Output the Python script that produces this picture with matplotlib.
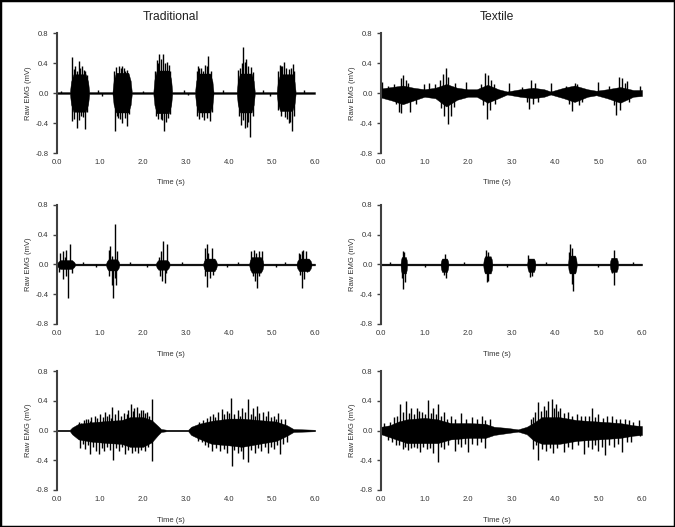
import numpy as np
import matplotlib.pyplot as plt
from matplotlib.patches import Rectangle

plt.rcParams['font.family'] = ['Liberation Sans', 'DejaVu Sans']
plt.rcParams['axes.unicode_minus'] = False

# ---- Traditional, row 1: six bursts (start, end, core up, core low)
trad1_start = [0.30, 1.29, 2.24, 3.21, 4.18, 5.11]
trad1_end = [0.75, 1.74, 2.68, 3.64, 4.60, 5.55]
trad1_up = [0.25, 0.27, 0.30, 0.26, 0.26, 0.25]
trad1_lo = [-0.25, -0.26, -0.27, -0.26, -0.26, -0.24]
trad1_spikes = [(0.36, 0.48), (0.42, 0.36), (0.50, 0.43), (0.58, 0.36), (0.65, 0.30),
                (0.35, -0.37), (0.46, -0.47), (0.55, -0.30), (0.65, -0.48),
                (0.40, 0.32), (0.46, 0.30), (0.54, 0.34), (0.62, 0.31), (0.70, 0.24),
                (0.40, -0.34), (0.51, -0.36), (0.60, -0.32), (0.70, -0.25),
                (1.38, 0.35), (1.44, 0.36), (1.55, 0.33), (1.62, 0.31),
                (1.35, -0.51), (1.42, -0.33), (1.52, -0.40), (1.62, -0.44),
                (1.33, 0.30), (1.48, 0.33), (1.52, 0.36), (1.58, 0.30), (1.66, 0.25),
                (1.40, -0.30), (1.47, -0.35), (1.57, -0.33), (1.67, -0.28),
                (2.33, 0.44), (2.38, 0.52), (2.47, 0.52), (2.55, 0.42), (2.60, 0.38),
                (2.30, -0.30), (2.42, -0.34), (2.49, -0.50), (2.58, -0.33),
                (2.28, 0.30), (2.35, 0.40), (2.42, 0.45), (2.51, 0.40), (2.63, 0.30),
                (2.35, -0.34), (2.45, -0.36), (2.53, -0.38), (2.63, -0.28),
                (3.27, 0.36), (3.35, 0.33), (3.45, 0.38), (3.52, 0.49),
                (3.30, -0.34), (3.42, -0.36), (3.56, -0.37),
                (3.25, 0.30), (3.31, 0.34), (3.40, 0.30), (3.49, 0.36), (3.58, 0.30),
                (3.25, -0.30), (3.37, -0.32), (3.48, -0.33), (3.60, -0.25),
                (4.22, 0.31), (4.33, 0.62), (4.40, 0.45), (4.50, 0.35),
                (4.27, -0.42), (4.37, -0.47), (4.44, -0.38), (4.49, -0.58),
                (4.25, 0.34), (4.30, 0.40), (4.37, 0.42), (4.45, 0.36), (4.55, 0.28),
                (4.23, -0.30), (4.33, -0.36), (4.41, -0.45), (4.55, -0.30),
                (5.18, 0.38), (5.24, 0.36), (5.29, 0.41), (5.40, 0.32), (5.48, 0.39),
                (5.14, -0.22), (5.30, -0.32), (5.40, -0.40), (5.46, -0.50),
                (5.15, 0.30), (5.21, 0.36), (5.33, 0.34), (5.44, 0.33), (5.52, 0.30),
                (5.20, -0.30), (5.35, -0.34), (5.43, -0.38), (5.50, -0.30),
                (0.10, 0.03), (0.95, 0.04), (1.05, -0.04), (2.00, 0.03), (2.95, 0.04),
                (3.05, -0.03), (3.85, 0.04), (4.80, 0.04), (4.95, -0.04), (5.75, 0.04)]

# ---- Traditional, row 2
trad2_start = [0.00, 1.14, 2.30, 3.40, 4.47, 5.57]
trad2_end = [0.42, 1.45, 2.62, 3.72, 4.80, 5.92]
trad2_up = [0.06, 0.07, 0.06, 0.08, 0.10, 0.08]
trad2_lo = [-0.06, -0.08, -0.07, -0.09, -0.11, -0.09]
trad2_spikes = [(0.08, 0.15), (0.13, 0.18), (0.22, 0.20), (0.30, 0.27), (0.26, -0.45),
                (0.14, -0.20), (0.35, -0.12), (0.05, -0.10), (0.18, 0.10), (0.20, -0.15),
                (1.20, 0.20), (1.23, 0.25), (1.35, 0.55), (1.40, 0.18), (1.27, 0.12),
                (1.28, -0.27), (1.31, -0.45), (1.38, -0.27), (1.22, -0.15), (1.34, -0.18),
                (2.42, 0.18), (2.47, 0.32), (2.55, 0.27), (2.44, -0.22), (2.50, -0.25),
                (2.38, 0.10), (2.40, -0.15), (2.53, -0.12),
                (3.45, 0.22), (3.48, 0.27), (3.60, 0.22), (3.48, -0.30), (3.55, -0.18),
                (3.52, 0.15), (3.44, -0.15), (3.62, -0.14),
                (4.52, 0.18), (4.57, 0.20), (4.70, 0.18), (4.76, 0.18), (4.62, 0.16),
                (4.64, -0.31), (4.60, -0.22), (4.70, -0.15), (4.55, -0.16),
                (5.62, 0.15), (5.70, 0.18), (5.73, 0.20), (5.80, 0.18), (5.66, 0.14),
                (5.69, -0.31), (5.75, -0.20), (5.64, -0.14), (5.82, -0.10),
                (0.60, 0.03), (0.90, -0.03), (1.70, 0.03), (2.10, -0.03), (2.90, 0.03),
                (3.95, -0.03), (4.20, 0.03), (5.10, -0.03), (5.30, 0.03)]

# ---- Textile, row 2
text2_start = [0.45, 1.37, 2.35, 3.36, 4.30, 5.26]
text2_end = [0.60, 1.55, 2.56, 3.55, 4.50, 5.45]
text2_up = [0.10, 0.08, 0.11, 0.08, 0.12, 0.09]
text2_lo = [-0.12, -0.10, -0.12, -0.10, -0.12, -0.10]
text2_spikes = [(0.51, 0.18), (0.53, 0.17), (0.51, -0.33), (0.55, -0.24), (0.49, -0.18),
                (1.47, 0.14), (1.50, -0.18), (1.45, -0.14),
                (2.41, 0.20), (2.45, 0.17), (2.43, -0.24), (2.47, -0.22),
                (3.39, 0.13), (3.43, -0.17), (3.47, -0.15),
                (4.35, 0.27), (4.38, 0.22), (4.32, 0.17), (4.41, -0.36), (4.38, -0.26),
                (5.35, 0.19), (5.35, -0.27), (5.32, -0.12),
                (0.20, 0.03), (1.00, -0.03), (1.90, 0.03), (2.90, -0.03), (3.80, 0.03),
                (5.00, -0.03), (5.80, 0.03)]

# ---- Textile, row 1: envelope knots (time, upper, lower)
text1_env = [(0.0, 0.06, -0.06), (0.25, 0.08, -0.10), (0.5, 0.10, -0.15), (0.75, 0.07, -0.10),
             (1.0, 0.05, -0.05), (1.25, 0.07, -0.07), (1.5, 0.12, -0.18), (1.75, 0.07, -0.09),
             (2.0, 0.05, -0.05), (2.2, 0.05, -0.05), (2.45, 0.11, -0.13), (2.7, 0.05, -0.07),
             (2.9, 0.02, -0.02), (3.2, 0.05, -0.05), (3.5, 0.07, -0.07), (3.75, 0.05, -0.05),
             (3.9, 0.02, -0.02), (4.2, 0.07, -0.07), (4.45, 0.10, -0.12), (4.75, 0.05, -0.05),
             (4.95, 0.03, -0.03), (5.2, 0.05, -0.07), (5.5, 0.08, -0.13), (5.8, 0.04, -0.05),
             (6.0, 0.04, -0.04)]
text1_spikes = [(0.02, 0.15), (0.45, 0.20), (0.50, 0.24), (0.58, 0.18), (0.42, -0.25),
                (0.47, -0.27), (0.66, -0.25), (0.98, 0.12), (1.10, 0.13), (1.42, 0.25),
                (1.50, 0.34), (1.55, 0.22), (1.45, -0.30), (1.54, -0.41), (1.60, -0.30),
                (1.95, 0.15), (2.38, 0.27), (2.45, 0.24), (2.52, 0.18), (2.43, -0.34),
                (2.50, -0.22), (2.95, 0.13), (3.45, 0.18), (3.55, 0.14), (3.40, -0.21),
                (3.62, -0.12), (3.90, 0.13), (4.45, 0.14), (4.40, -0.24), (4.55, -0.16),
                (4.98, 0.15), (5.47, 0.21), (5.55, 0.20), (5.60, 0.14), (5.41, -0.29),
                (5.50, -0.22), (5.95, 0.10),
                (0.15, 0.10), (0.30, 0.12), (0.35, -0.15), (0.62, 0.14), (0.80, -0.14),
                (1.25, 0.12), (1.35, 0.18), (1.38, -0.20), (1.68, -0.18), (1.70, 0.14),
                (2.30, 0.12), (2.35, -0.16), (2.60, 0.12), (2.62, -0.14), (3.25, 0.08),
                (3.35, -0.12), (3.50, -0.14), (4.25, 0.10), (4.32, -0.14), (4.50, 0.12),
                (4.62, -0.12), (5.25, 0.10), (5.35, -0.16), (5.65, 0.16), (5.70, -0.12)]

# ---- Traditional, row 3
trad3_env = [(0.0, 0.01, -0.01), (0.30, 0.01, -0.01), (0.35, 0.04, -0.05), (0.5, 0.09, -0.12),
             (0.8, 0.11, -0.15), (1.2, 0.13, -0.17), (1.5, 0.14, -0.18), (1.7, 0.18, -0.22),
             (2.0, 0.18, -0.22), (2.2, 0.14, -0.16), (2.35, 0.06, -0.06), (2.42, 0.02, -0.02),
             (2.55, 0.01, -0.01), (3.05, 0.01, -0.01), (3.12, 0.05, -0.06), (3.3, 0.09, -0.11),
             (3.6, 0.13, -0.18), (4.0, 0.16, -0.20), (4.3, 0.16, -0.22), (4.7, 0.14, -0.18),
             (5.1, 0.12, -0.14), (5.35, 0.07, -0.07), (5.5, 0.02, -0.02), (6.0, 0.01, -0.01)]
trad3_spikes = [(0.51, 0.12), (0.62, 0.14), (0.71, 0.16), (0.80, 0.18), (0.88, 0.20),
                (1.00, 0.22), (1.12, 0.25), (1.20, 0.22), (1.29, 0.31), (1.43, 0.27),
                (1.55, 0.24), (1.72, 0.36), (1.80, 0.30), (1.85, 0.31), (1.95, 0.28),
                (2.00, 0.27), (2.10, 0.25), (2.22, 0.42), (3.30, 0.12), (3.48, 0.17),
                (3.62, 0.22), (3.75, 0.25), (3.83, 0.29), (3.95, 0.26), (4.05, 0.44),
                (4.20, 0.28), (4.30, 0.30), (4.45, 0.43), (4.55, 0.30), (4.64, 0.33),
                (4.80, 0.25), (4.91, 0.26), (5.05, 0.20), (5.15, 0.24), (5.30, 0.15),
                (0.56, 0.10), (0.67, 0.16), (0.76, 0.13), (0.93, 0.17), (1.06, 0.18),
                (1.16, 0.20), (1.25, 0.17), (1.36, 0.22), (1.48, 0.20), (1.62, 0.22),
                (1.66, 0.28), (1.76, 0.26), (1.90, 0.24), (2.05, 0.23), (2.15, 0.20),
                (3.40, 0.14), (3.55, 0.20), (3.68, 0.18), (3.88, 0.22), (4.00, 0.24),
                (4.12, 0.22), (4.25, 0.20), (4.38, 0.25), (4.50, 0.22), (4.60, 0.20),
                (4.70, 0.24), (4.85, 0.20), (4.98, 0.18), (5.10, 0.16), (5.22, 0.15),
                (0.53, -0.23), (0.65, -0.25), (0.77, -0.32), (0.90, -0.28), (0.98, -0.32),
                (1.10, -0.28), (1.31, -0.39), (1.45, -0.27), (1.58, -0.32), (1.75, -0.30),
                (1.89, -0.30), (2.05, -0.28), (2.22, -0.41), (3.29, -0.14), (3.45, -0.20),
                (3.60, -0.27), (3.80, -0.28), (3.95, -0.30), (4.06, -0.48), (4.20, -0.30),
                (4.33, -0.38), (4.45, -0.43), (4.60, -0.30), (4.75, -0.28), (4.91, -0.30),
                (5.05, -0.25), (5.19, -0.32), (5.35, -0.15),
                (0.60, -0.18), (0.72, -0.20), (0.84, -0.22), (1.04, -0.24), (1.17, -0.22),
                (1.24, -0.26), (1.38, -0.24), (1.52, -0.22), (1.66, -0.26), (1.82, -0.27),
                (1.96, -0.26), (2.12, -0.22), (3.38, -0.16), (3.52, -0.22), (3.70, -0.24),
                (3.88, -0.25), (4.12, -0.26), (4.27, -0.28), (4.52, -0.26), (4.68, -0.24),
                (4.84, -0.22), (4.98, -0.22), (5.12, -0.20), (5.26, -0.18)]

# ---- Textile, row 3
text3_env = [(0.0, 0.05, -0.05), (0.2, 0.07, -0.09), (0.4, 0.12, -0.13), (0.6, 0.15, -0.17),
             (1.0, 0.17, -0.17), (1.3, 0.15, -0.17), (1.6, 0.10, -0.12), (2.0, 0.10, -0.10),
             (2.4, 0.09, -0.10), (2.6, 0.05, -0.06), (2.9, 0.035, -0.035), (3.15, 0.015, -0.015),
             (3.35, 0.05, -0.05), (3.5, 0.10, -0.13), (3.7, 0.18, -0.18), (4.1, 0.18, -0.18),
             (4.5, 0.14, -0.14), (5.0, 0.12, -0.12), (5.5, 0.10, -0.10), (5.8, 0.07, -0.07),
             (6.0, 0.06, -0.06)]
text3_spikes = [(0.08, 0.10), (0.30, 0.18), (0.43, 0.36), (0.50, 0.25), (0.58, 0.39),
                (0.70, 0.30), (0.82, 0.30), (0.95, 0.25), (1.08, 0.41), (1.20, 0.30),
                (1.32, 0.35), (1.45, 0.25), (1.60, 0.20), (1.85, 0.23), (2.10, 0.18),
                (2.32, 0.20), (2.50, 0.15), (3.45, 0.15), (3.55, 0.25), (3.62, 0.38),
                (3.75, 0.33), (3.85, 0.40), (3.93, 0.42), (4.02, 0.35), (4.12, 0.30),
                (4.30, 0.25), (4.50, 0.22), (4.70, 0.20), (4.85, 0.30), (5.00, 0.22),
                (5.20, 0.20), (5.32, 0.20), (5.60, 0.15), (5.80, 0.12), (5.93, 0.14),
                (0.20, 0.12), (0.36, 0.20), (0.64, 0.24), (0.76, 0.22), (0.88, 0.26),
                (1.00, 0.22), (1.14, 0.24), (1.26, 0.22), (1.38, 0.20), (1.52, 0.16),
                (1.70, 0.16), (1.95, 0.16), (2.20, 0.15), (2.40, 0.14), (3.50, 0.18),
                (3.68, 0.26), (3.80, 0.28), (3.98, 0.30), (4.06, 0.26), (4.20, 0.24),
                (4.40, 0.20), (4.60, 0.19), (4.78, 0.20), (4.92, 0.18), (5.10, 0.17),
                (5.40, 0.16), (5.50, 0.15), (5.70, 0.14),
                (0.16, -0.13), (0.35, -0.20), (0.50, -0.25), (0.62, -0.26), (0.75, -0.22),
                (0.89, -0.29), (1.05, -0.25), (1.20, -0.30), (1.30, -0.42), (1.45, -0.25),
                (1.70, -0.27), (1.85, -0.22), (2.00, -0.29), (2.20, -0.20), (2.39, -0.24),
                (3.50, -0.25), (3.62, -0.39), (3.80, -0.28), (3.95, -0.30), (4.20, -0.29),
                (4.40, -0.25), (4.66, -0.31), (4.85, -0.25), (5.00, -0.28), (5.16, -0.33),
                (5.35, -0.22), (5.55, -0.29), (5.75, -0.15), (5.95, -0.08),
                (0.26, -0.16), (0.42, -0.20), (0.56, -0.22), (0.68, -0.24), (0.82, -0.24),
                (0.96, -0.22), (1.12, -0.24), (1.38, -0.22), (1.55, -0.20), (1.78, -0.18),
                (1.92, -0.18), (2.10, -0.18), (2.30, -0.16), (3.56, -0.20), (3.70, -0.25),
                (3.88, -0.24), (4.05, -0.24), (4.30, -0.22), (4.52, -0.20), (4.75, -0.22),
                (4.92, -0.20), (5.08, -0.22), (5.25, -0.20), (5.45, -0.18), (5.65, -0.16)]

yticks = [-0.8, -0.4, 0.0, 0.4, 0.8]
xticks = [0, 1, 2, 3, 4, 5, 6]
col_titles = ['Traditional', 'Textile']


def burst_env(starts, ends, ups, los, base=0.012):
    env = [(0.0, base, -base)]
    for s, e, u, l in zip(starts, ends, ups, los):
        d = e - s
        env += [(s, base, -base), (s + 0.06 * d, 0.6 * u, 0.6 * l), (s + 0.18 * d, u, l),
                (e - 0.18 * d, u, l), (e - 0.06 * d, 0.6 * u, 0.6 * l), (e, base, -base)]
    env.append((6.0, base, -base))
    return env


panels = [
    (burst_env(trad1_start, trad1_end, trad1_up, trad1_lo), trad1_spikes),
    (text1_env, text1_spikes),
    (burst_env(trad2_start, trad2_end, trad2_up, trad2_lo), trad2_spikes),
    (burst_env(text2_start, text2_end, text2_up, text2_lo), text2_spikes),
    (trad3_env, trad3_spikes),
    (text3_env, text3_spikes),
]

fig = plt.figure(figsize=(6.75, 5.27), dpi=100)
W, H = 675, 527
col_x = [(57, 315), (381, 642)]
row_y = [(33, 153), (205, 324), (371, 490)]

for i, (env, spikes) in enumerate(panels):
    r, c = divmod(i, 2)
    x0, x1 = col_x[c]
    yt, yb = row_y[r]
    ax = fig.add_axes([x0 / W, 1 - yb / H, (x1 - x0) / W, (yb - yt) / H])
    ax.patch.set_alpha(0)

    env = np.array(env)
    ax.fill_between(env[:, 0], env[:, 1], env[:, 2], color='black', lw=0.3)
    sp = np.array(spikes)
    ax.vlines(sp[:, 0], 0, sp[:, 1], color='black', lw=1.0)

    ax.set_xlim(0, 6)
    ax.set_ylim(-0.8, 0.8)
    for s in ['top', 'right', 'bottom']:
        ax.spines[s].set_visible(False)
    ax.spines['left'].set_color('#404040')
    ax.spines['left'].set_linewidth(1.5)
    ax.set_yticks(yticks)
    ax.set_yticklabels([f'{v:.1f}' for v in yticks])
    ax.set_xticks(xticks)
    ax.set_xticklabels([f'{v:.1f}' for v in xticks])
    ax.tick_params(axis='y', direction='out', length=3, width=1, color='#404040',
                   labelsize=5.5, labelcolor='#333333', pad=3)
    ax.tick_params(axis='x', length=0, labelsize=5.5, labelcolor='#333333', pad=4)

    cx = (x0 + x1) / 2 - 15
    fig.text(cx / W, 1 - (yb + 30) / H, 'Time (s)', ha='center', va='center',
             fontsize=5.5, color='#333333')
    fig.text((x0 - 28) / W, 1 - (yt + yb) / 2 / H, 'Raw EMG (mV)', rotation=90,
             ha='center', va='center', fontsize=5.5, color='#333333')
    if r == 0:
        fig.text(cx / W, 1 - 17 / H, col_titles[c], ha='center', va='center',
                 fontsize=8.7, color='#222222')

fig.patches.append(Rectangle((0, 0), 1, 1, transform=fig.transFigure, fill=False,
                             edgecolor='black', lw=2.5))

plt.savefig('out.png', dpi=100)
